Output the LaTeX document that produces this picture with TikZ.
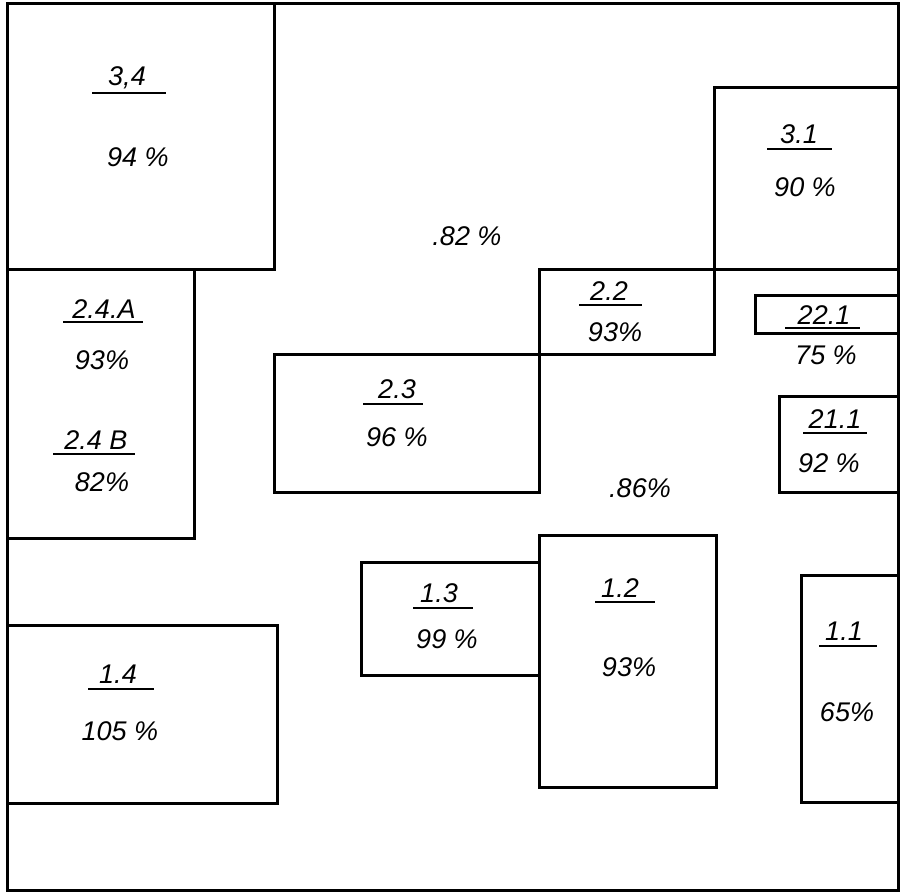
\documentclass[tikz,border=0pt]{standalone}
\usepackage{fontspec}
\setmainfont{Liberation Sans}
\begin{document}
\begin{tikzpicture}[x=0.5pt,y=-0.5pt,
  wall/.style={line width=1.5pt,line cap=rect},
  uline/.style={line width=1pt},
  txt/.style={inner sep=0pt,font=\fontsize{13.5}{16}\selectfont\itshape}]
\useasboundingbox (0,0) rectangle (903,892);
% outer frame
\draw[wall] (7,4) rectangle (898,890);
% rooms
\draw[wall] (7,4) rectangle (274,270);       % 3,4
\draw[wall] (7,270) rectangle (194,538);     % 2.4
\draw[wall] (714,88) rectangle (898,270);    % 3.1
\draw[wall] (539,270) rectangle (714,355);   % 2.2
\draw[wall] (274,355) rectangle (539,492);   % 2.3
\draw[wall] (755,296) rectangle (898,334);   % 22.1
\draw[wall] (779,397) rectangle (898,492);   % 21.1
\draw[wall] (361,562) rectangle (539,675);   % 1.3
\draw[wall] (539,535) rectangle (716,787);   % 1.2
\draw[wall] (801,575) rectangle (898,802);   % 1.1
\draw[wall] (7,625) rectangle (277,803);     % 1.4

% room numbers and percentages
\node[txt] (n34) at (127,78) {3,4};
\draw[uline] (92,93) -- (166,93);
\node[txt] (p34) at (138,157) {94 \%};

\node[txt] (p82) at (467,236) {.82 \%};

\node[txt] (n31) at (799,134) {3.1};
\draw[uline] (767,149) -- (832,149);
\node[txt] (p31) at (805,187) {90 \%};

\node[txt] (n22) at (609,291) {2.2};
\draw[uline] (579,305) -- (642,305);
\node[txt] (p22) at (615,332) {93\%};

\node[txt] (n221) at (824,315) {22.1};
\draw[uline] (785,328) -- (860,328);
\node[txt] (p221) at (826,355) {75 \%};

\node[txt] (n211) at (835,419) {21.1};
\draw[uline] (803,433) -- (867,433);
\node[txt] (p211) at (829,463) {92 \%};

\node[txt] (n23) at (397,389) {2.3};
\draw[uline] (363,404) -- (423,404);
\node[txt] (p23) at (397,437) {96 \%};

\node[txt] (p86) at (640,488) {.86\%};

\node[txt] (n24a) at (104,309) {2.4.A};
\draw[uline] (63,322) -- (143,322);
\node[txt] (p24a) at (102,360) {93\%};

\node[txt] (n24b) at (96,440) {2.4 B};
\draw[uline] (53,454) -- (135,454);
\node[txt] (p24b) at (102,482) {82\%};

\node[txt] (n14) at (118,674) {1.4};
\draw[uline] (88,689) -- (154,689);
\node[txt] (p14) at (120,731) {105 \%};

\node[txt] (n13) at (439,593) {1.3};
\draw[uline] (413,608) -- (473,608);
\node[txt] (p13) at (447,639) {99 \%};

\node[txt] (n12) at (620,588) {1.2};
\draw[uline] (595,602) -- (655,602);
\node[txt] (p12) at (629,667) {93\%};

\node[txt] (n11) at (844,631) {1.1};
\draw[uline] (819,646) -- (877,646);
\node[txt] (p11) at (847,712) {65\%};
\end{tikzpicture}
\end{document}
